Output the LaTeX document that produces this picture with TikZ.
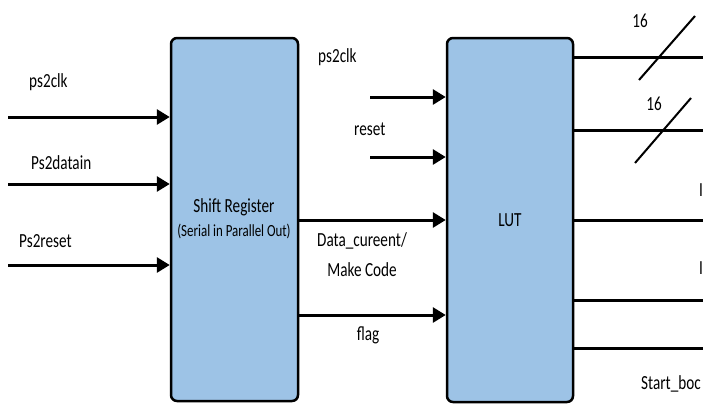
\documentclass[tikz,border=0pt]{standalone}
\usepackage{fontspec}
\setmainfont{Carlito}[FakeStretch=0.76]
\usetikzlibrary{arrows.meta}
\definecolor{boxblue}{HTML}{9DC3E6}
\begin{document}
\begin{tikzpicture}[x=1pt,y=-1pt,
  blk/.style={draw=black,line width=2.5pt,fill=boxblue,rounded corners=6pt,inner sep=0pt},
  sig/.style={line width=3pt,-{Triangle[length=13pt,width=15pt]}},
  wire/.style={line width=3pt},
  lbl/.style={font=\fontsize{20}{30}\selectfont,inner sep=0pt},
  bus/.style={line width=2pt}]
\useasboundingbox (0,0) rectangle (703,405);
\clip (0,0) rectangle (703,405);
\fill[white] (0,0) rectangle (703,405);
% blocks
\node[blk,minimum width=127pt,minimum height=363pt] (sr) at (234.5,219.5) {};
\node[blk,minimum width=126pt,minimum height=364pt] (lut) at (510,220) {};
\node[lbl] (srt) at (234,207) {Shift Register};
\node[font=\fontsize{17}{20}\selectfont,inner sep=0pt] (srs) at (234,231) {(Serial in Parallel Out)};
\node[lbl] (lutt) at (510,220) {LUT};
% left inputs
\coordinate (i1) at (8,117);
\coordinate (i2) at (8,184);
\coordinate (i3) at (8,265);
\draw[sig] (i1) -- (i1 -| sr.west);
\draw[sig] (i2) -- (i2 -| sr.west);
\draw[sig] (i3) -- (i3 -| sr.west);
\node[lbl,anchor=west] (l1) at (29,82) {ps2clk};
\node[lbl,anchor=west] (l2) at (31,163) {Ps2datain};
\node[lbl,anchor=west] (l3) at (19,241) {Ps2reset};
% LUT inputs
\coordinate (c1) at (370,97);
\coordinate (c2) at (370,157);
\draw[sig] (c1) -- (c1 -| lut.west);
\draw[sig] (c2) -- (c2 -| lut.west);
\node[lbl,anchor=west] (l4) at (318,57) {ps2clk};
\node[lbl,anchor=west] (l5) at (354,129) {reset};
\coordinate (d1) at (298,220);
\coordinate (d2) at (298,315);
\draw[sig] (d1 -| sr.east) -- (d1 -| lut.west);
\draw[sig] (d2 -| sr.east) -- (d2 -| lut.west);
\node[lbl,align=center] (l6) at (362,255) {Data\_cureent/\\Make Code};
\node[lbl] (l7) at (368,335) {flag};
% outputs
\foreach \y/\n in {57/o1,130/o2,220/o3,300/o4,348/o5}{
  \coordinate (\n) at (703,\y);
  \draw[wire] (\n -| lut.east) -- (\n);
}
\coordinate (s1a) at (639,80);
\coordinate (s1b) at (695,16);
\coordinate (s2a) at (635,163);
\coordinate (s2b) at (691,98);
\draw[bus] (s1a) -- (s1b);
\draw[bus] (s2a) -- (s2b);
\node[lbl] (n1) at (640,21) {16};
\node[lbl] (n2) at (654,104) {16};
\node[lbl,anchor=west] (p1) at (699,190) {I};
\node[lbl,anchor=west] (p2) at (699,268) {I};
\node[lbl,anchor=west] (p3) at (641,384) {Start\_boc};
\end{tikzpicture}
\end{document}
